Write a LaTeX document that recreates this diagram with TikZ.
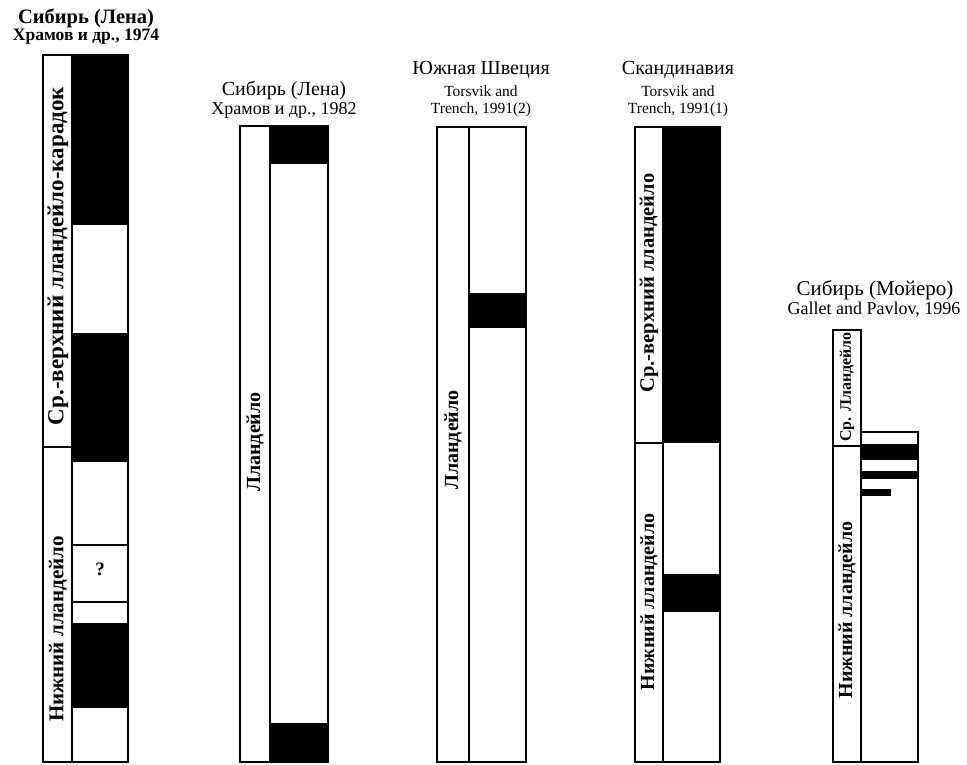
\documentclass[tikz,border=0pt]{standalone}
\usepackage{fontspec}
\setmainfont{Liberation Serif}
\newcommand{\fsz}[1]{\fontsize{#1}{#1}\selectfont}
\begin{document}
\begin{tikzpicture}[x=1pt,y=-1pt,
  frame/.style={draw=black,line width=1.6pt},
  rev/.style={fill=black},
  sep/.style={draw=black,line width=1.4pt},
  lbl/.style={rotate=90,inner sep=0pt,font=\fsz{20}\bfseries},
  ttl/.style={inner sep=0pt,align=center,font=\fsz{20}},
  sub/.style={inner sep=0pt,align=center,font=\fsz{18}},
  lat/.style={inner sep=0pt,align=center,font=\fsz{15.5}}]
\useasboundingbox (0,0) rectangle (967,764);

% --- Сибирь (Лена), 1974 ---
\node[ttl,font=\fsz{20.5}\bfseries] (t1a) at (86,18) {Сибирь (Лена)};
\node[sub,font=\fsz{17.5}\bfseries] (t1b) at (86,37) {Храмов и др., 1974};
\fill[rev] (72,55) rectangle (128,225);
\fill[rev] (72,333) rectangle (128,462);
\fill[rev] (72,623) rectangle (128,708);
\draw[sep] (72,545) -- (128,545);
\draw[sep] (72,602) -- (128,602);
\draw[sep] (43,447) -- (72,447);
\draw[frame] (43,55) rectangle (128,762);
\draw[frame] (72,55) -- (72,762);
\node[font=\fsz{19}\bfseries] (q1) at (100,569) {?};
\node[lbl,font=\fsz{23}\bfseries] (l1a) at (58,256) {Ср.-верхний лландейло-карадок};
\node[lbl,font=\fsz{21}\bfseries] (l1b) at (58,629) {Нижний лландейло};

% --- Сибирь (Лена), 1982 ---
\node[ttl] (t2a) at (284,90) {Сибирь (Лена)};
\node[sub] (t2b) at (284,110) {Храмов и др., 1982};
\fill[rev] (270,126) rectangle (328,164);
\fill[rev] (270,723) rectangle (328,762);
\draw[frame] (240,126) rectangle (328,762);
\draw[frame] (270,126) -- (270,762);
\node[lbl] (l2) at (255,442) {Лландейло};

% --- Южная Швеция ---
\node[ttl] (t3a) at (481,70) {Южная Швеция};
\node[lat] (t3b) at (481,91) {Torsvik and};
\node[lat] (t3c) at (481,110) {Trench, 1991(2)};
\fill[rev] (469,293) rectangle (526,328);
\draw[frame] (437,127) rectangle (526,762);
\draw[frame] (469,127) -- (469,762);
\node[lbl] (l3) at (453,440) {Лландейло};

% --- Скандинавия ---
\node[ttl] (t4a) at (678,70) {Скандинавия};
\node[lat] (t4b) at (678,91) {Torsvik and};
\node[lat] (t4c) at (678,110) {Trench, 1991(1)};
\fill[rev] (663,127) rectangle (720,443);
\fill[rev] (663,574) rectangle (720,612);
\draw[sep] (635,443) -- (663,443);
\draw[frame] (635,127) rectangle (720,762);
\draw[frame] (663,127) -- (663,762);
\node[lbl,font=\fsz{20.5}\bfseries] (l4a) at (649,283) {Ср.-верхний лландейло};
\node[lbl] (l4b) at (649,602) {Нижний лландейло};

% --- Сибирь (Мойеро) ---
\node[ttl,font=\fsz{21}] (t5a) at (875,290) {Сибирь (Мойеро)};
\node[sub] (t5b) at (874,310) {Gallet and Pavlov, 1996};
\fill[rev] (861,444) rectangle (918,460);
\fill[rev] (861,471) rectangle (918,479);
\fill[rev] (861,489) rectangle (891,496);
\draw[frame] (861,432) rectangle (918,762);
\draw[frame] (833,330) rectangle (861,762);
\draw[sep] (833,446) -- (861,446);
\node[lbl,font=\fsz{16}\bfseries] (l5a) at (847,387) {Ср. Лландейло};
\node[lbl] (l5b) at (847,610) {Нижний лландейло};
\end{tikzpicture}
\end{document}
